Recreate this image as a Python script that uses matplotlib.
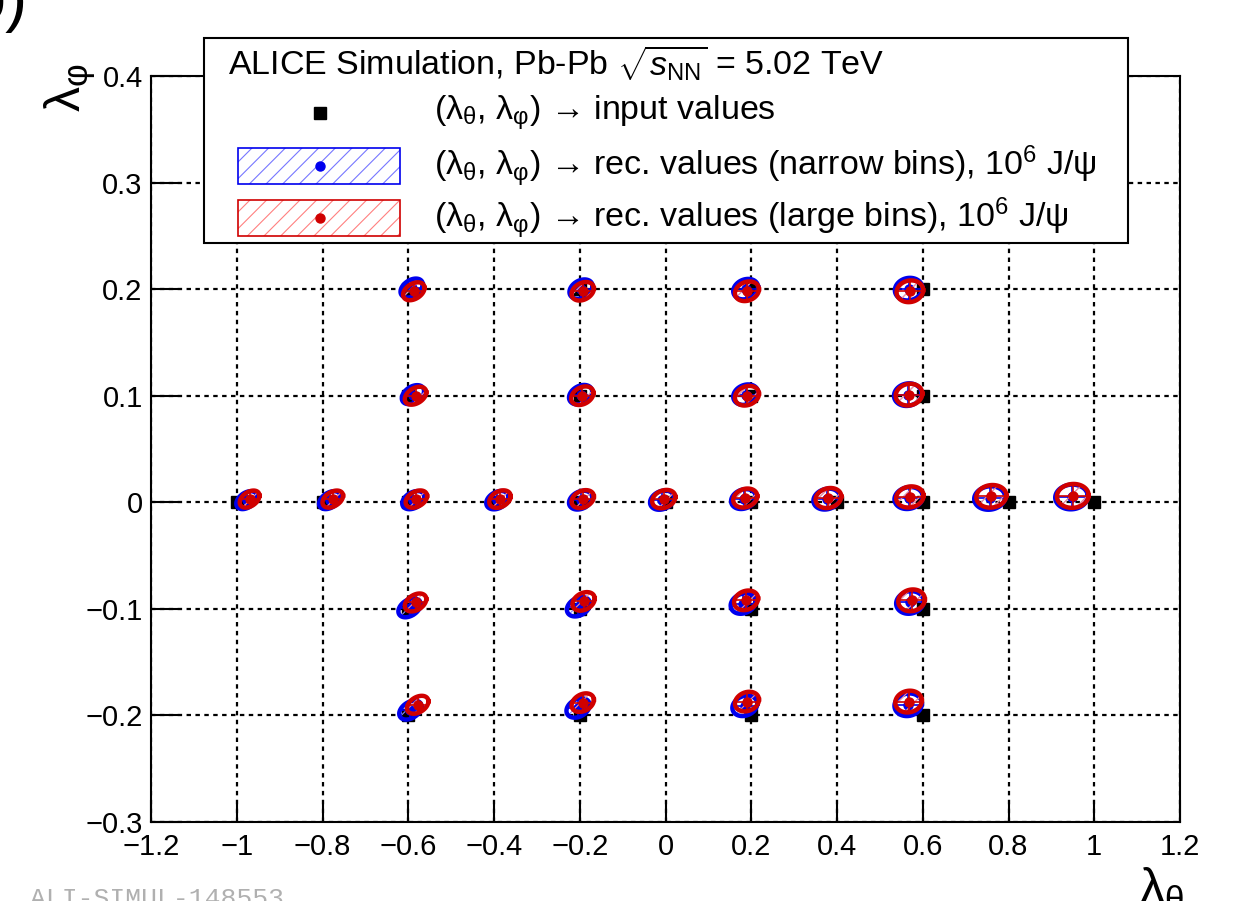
import numpy as np
import matplotlib
matplotlib.use('Agg')
import matplotlib.pyplot as plt
from matplotlib.patches import Rectangle
from matplotlib.lines import Line2D

plt.rcParams['font.family'] = ['Liberation Sans', 'DejaVu Sans']
plt.rcParams['mathtext.fontset'] = 'custom'
plt.rcParams['mathtext.rm'] = 'Liberation Sans'
plt.rcParams['mathtext.it'] = 'Liberation Sans:italic'
plt.rcParams['mathtext.bf'] = 'Liberation Sans:bold'
plt.rcParams['mathtext.default'] = 'regular'
plt.rcParams['hatch.linewidth'] = 0.8

# input (lambda_theta, lambda_phi) values
inp_th = [-0.6, -0.2, 0.2, 0.6,
          -0.6, -0.2, 0.2, 0.6,
          -1.0, -0.8, -0.6, -0.4, -0.2, 0.0, 0.2, 0.4, 0.6, 0.8, 1.0,
          -0.6, -0.2, 0.2, 0.6,
          -0.6, -0.2, 0.2, 0.6]
inp_ph = [0.2, 0.2, 0.2, 0.2,
          0.1, 0.1, 0.1, 0.1,
          0, 0, 0, 0, 0, 0, 0, 0, 0, 0, 0,
          -0.1, -0.1, -0.1, -0.1,
          -0.2, -0.2, -0.2, -0.2]

# reconstructed, large bins (red)
red_th = [-0.587, -0.193, 0.190, 0.570,
          -0.583, -0.194, 0.190, 0.568,
          -0.970, -0.776, -0.581, -0.386, -0.193, -0.004, 0.186, 0.380, 0.570, 0.760, 0.950,
          -0.583, -0.191, 0.188, 0.574,
          -0.578, -0.193, 0.190, 0.567]
red_ph = [0.198, 0.198, 0.198, 0.198,
          0.100, 0.100, 0.100, 0.101,
          0.003, 0.003, 0.003, 0.003, 0.003, 0.003, 0.004, 0.004, 0.005, 0.0056, 0.006,
          -0.094, -0.093, -0.092, -0.092,
          -0.190, -0.188, -0.187, -0.187]
red_sth = [0.025, 0.026, 0.028, 0.031,
           0.025, 0.026, 0.028, 0.031,
           0.023, 0.024, 0.025, 0.025, 0.026, 0.027, 0.028, 0.030, 0.032, 0.035, 0.037,
           0.025, 0.026, 0.028, 0.031,
           0.025, 0.026, 0.028, 0.031]
red_sph = [0.0084, 0.0087, 0.0092, 0.0102,
           0.0084, 0.0087, 0.0092, 0.0102,
           0.0080, 0.0080, 0.0081, 0.0082, 0.0084, 0.0086, 0.0089, 0.0094, 0.0099, 0.0106, 0.0112,
           0.0084, 0.0087, 0.0092, 0.0102,
           0.0084, 0.0087, 0.0092, 0.0102]
red_rho = [0.38, 0.3, 0.2, 0.1,
           0.38, 0.3, 0.2, 0.1,
           0.4, 0.4, 0.36, 0.32, 0.28, 0.24, 0.2, 0.16, 0.12, 0.08, 0.05,
           0.38, 0.3, 0.2, 0.1,
           0.38, 0.3, 0.2, 0.1]

# reconstructed, narrow bins (blue)
blue_th = [-0.592, -0.197, 0.187, 0.567,
           -0.589, -0.198, 0.187, 0.565,
           -0.977, -0.783, -0.588, -0.392, -0.198, -0.008, 0.182, 0.376, 0.567, 0.756, 0.947,
           -0.597, -0.203, 0.181, 0.570,
           -0.595, -0.204, 0.185, 0.566]
blue_ph = [0.201, 0.200, 0.200, 0.200,
           0.101, 0.101, 0.101, 0.101,
           0.002, 0.002, 0.002, 0.002, 0.002, 0.002, 0.003, 0.003, 0.004, 0.004, 0.005,
           -0.099, -0.098, -0.095, -0.094,
           -0.195, -0.193, -0.191, -0.190]
blue_sth = [0.026, 0.027, 0.029, 0.032,
            0.026, 0.027, 0.029, 0.032,
            0.024, 0.025, 0.026, 0.026, 0.027, 0.028, 0.029, 0.031, 0.033, 0.036, 0.038,
            0.026, 0.027, 0.029, 0.032,
            0.026, 0.027, 0.029, 0.032]
blue_sph = [0.0089, 0.0091, 0.0096, 0.0106,
            0.0089, 0.0091, 0.0096, 0.0106,
            0.0084, 0.0084, 0.0085, 0.0086, 0.0088, 0.0090, 0.0093, 0.0098, 0.0103, 0.0110, 0.0116,
            0.0089, 0.0091, 0.0096, 0.0106,
            0.0089, 0.0091, 0.0096, 0.0106]
blue_rho = red_rho

xticks = [-1.2, -1, -0.8, -0.6, -0.4, -0.2, 0, 0.2, 0.4, 0.6, 0.8, 1, 1.2]
yticks = [-0.3, -0.2, -0.1, 0, 0.1, 0.2, 0.3, 0.4]

blue = '#0000ee'
red = '#d00000'


def ellipse(cx, cy, sx, sy, rho):
    t = np.linspace(0, 2 * np.pi, 120)
    x = cx + sx * np.cos(t)
    y = cy + sy * (rho * np.cos(t) + np.sqrt(1 - rho**2) * np.sin(t))
    return x, y


def draw_series(ax, th, ph, sth, sph, rho, color, light, z):
    for i in range(len(th)):
        x, y = ellipse(th[i], ph[i], sth[i], sph[i], rho[i])
        ax.fill(x, y, facecolor='none', edgecolor=light, hatch='//', lw=0, zorder=z)
        ax.plot(x, y, color=color, lw=3.2, zorder=z + 0.1)
    ax.errorbar(th, ph, xerr=sth, yerr=sph, fmt='o', color=color, ms=6.5,
                elinewidth=1.2, capsize=0, zorder=z + 0.2)


def fmt(v, p):
    return ('%g' % v).replace('-', '\u2212')


fig = plt.figure(figsize=(12.36, 9.01), dpi=100)
ax = fig.add_axes([151 / 1236, 1 - 822 / 901, 1029 / 1236, 746 / 901])

ax.plot(inp_th, inp_ph, 's', color='black', ms=8.5, zorder=3)
draw_series(ax, blue_th, blue_ph, blue_sth, blue_sph, blue_rho, blue, '#8888ff', 4)
draw_series(ax, red_th, red_ph, red_sth, red_sph, red_rho, red, '#ff9090', 5)

ax.set_xlim(-1.2, 1.2)
ax.set_ylim(-0.3, 0.4)
ax.set_xticks(xticks)
ax.set_yticks(yticks)
ax.xaxis.set_major_formatter(matplotlib.ticker.FuncFormatter(fmt))
ax.yaxis.set_major_formatter(matplotlib.ticker.FuncFormatter(fmt))
ax.tick_params(axis='x', direction='in', length=16, width=1.5, labelsize=21, pad=8)
ax.tick_params(axis='y', direction='in', length=22, width=1.5, labelsize=21, pad=6)
ax.grid(True, color='black', linestyle=(0, (2, 2)), lw=1.6)
ax.set_axisbelow(True)
for s in ax.spines.values():
    s.set_linewidth(1.5)

# legend box
W, H = 1236.0, 901.0
fig.patches.append(Rectangle((204 / W, 1 - 243 / H), 924 / W, 205 / H, transform=fig.transFigure,
                             facecolor='white', edgecolor='black', lw=1.5, zorder=10))
fig.text(228 / W, 1 - 64 / H,
         r'ALICE Simulation, Pb-Pb $\sqrt{\mathit{s}_{\mathrm{NN}}}$ = 5.02 TeV',
         fontsize=24.5, va='center', ha='left', zorder=11)
fig.lines.append(Line2D([320 / W], [1 - 113 / H], marker='s', color='black', ms=8.5,
                        transform=fig.transFigure, zorder=11))
for yc, col, light in [(166, blue, '#7777ff'), (218, red, '#ff8080')]:
    fig.patches.append(Rectangle((238 / W, 1 - (yc + 18) / H), 162 / W, 36 / H,
                                 transform=fig.transFigure, facecolor='none', edgecolor=light,
                                 hatch='//', lw=0, zorder=11))
    fig.patches.append(Rectangle((238 / W, 1 - (yc + 18) / H), 162 / W, 36 / H,
                                 transform=fig.transFigure, facecolor='none', edgecolor=col,
                                 lw=1.2, zorder=12))
    fig.lines.append(Line2D([320 / W], [1 - yc / H], marker='o', color=col, ms=6.5,
                            transform=fig.transFigure, zorder=12))

lab = '(λ$_{θ}$, λ$_{φ}$) \u2192 '
entries = [(113, lab + 'input values'),
           (166, lab + 'rec. values (narrow bins), 10$^{6}$ J/ψ'),
           (218, lab + 'rec. values (large bins), 10$^{6}$ J/ψ')]
for yc, txt in entries:
    fig.text(434 / W, 1 - yc / H, txt, fontsize=24.5, va='center', ha='left', zorder=11)

# axis titles
fig.text(70 / W, 1 - 88 / H, 'λ$_{φ}$', fontsize=36, rotation=90, ha='center', va='center')
fig.text(1162 / W, 1 - 890 / H, 'λ$_{θ}$', fontsize=36, ha='center', va='center')

# panel tag and figure id
fig.text(28 / W, 1 - 2 / H, 'b)', fontsize=48, ha='right', va='center')
fig.text(30 / W, 1 - 887 / H, 'ALI-SIMUL-148553', family='Liberation Mono', color='#b0b0b0',
         fontsize=19, ha='left', va='top')

fig.savefig('out.png', dpi=100)
